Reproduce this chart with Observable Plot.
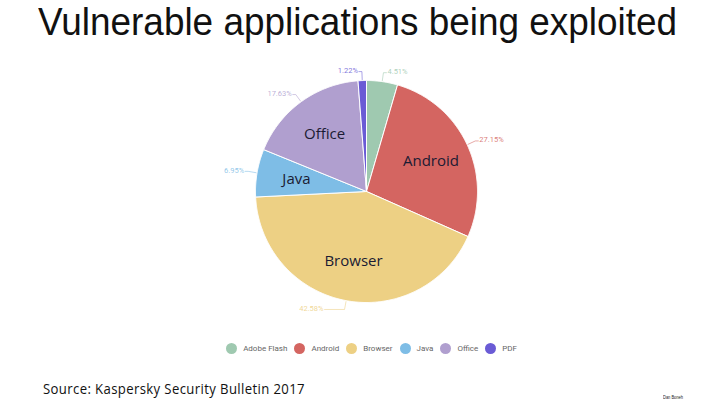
<!DOCTYPE html>
<html>
<head>
<meta charset="utf-8">
<script src="https://cdn.jsdelivr.net/npm/d3@7"></script>
<script src="https://cdn.jsdelivr.net/npm/@observablehq/plot@0.6"></script>
<style>
  html, body { margin: 0; padding: 0; background: #fff; }
  #wrap { position: relative; width: 720px; height: 405px; overflow: hidden; background: #fff; }
  #wrap svg { position: absolute; left: 0; top: 0; }
  .fit { position: absolute; white-space: nowrap; transform-origin: 0 0; }
  #title { top: 1px; font-family: "Liberation Sans", Arial, sans-serif; font-size: 38px; line-height: normal; color: #111; }
  #caption { top: 379px; font-family: "Open Sans", sans-serif; font-size: 14px; color: #111; letter-spacing: 0.4px; }
  #credit { left: 663px; top: 394px; font-family: "Liberation Sans", sans-serif; font-size: 6px; color: #222; }
  #legend { position: absolute; top: 343px; left: 0; width: 720px; display: flex; justify-content: center; padding-left: 23px; box-sizing: border-box;
            font-family: "Roboto", sans-serif; font-size: 8px; color: #666; }
  .li { display: flex; align-items: center; margin: 0 3.5px; }
  .sw { width: 11px; height: 11px; border-radius: 50%; margin-right: 6px; }
</style>
</head>
<body>
<div id="wrap">
  <div id="title" class="fit">Vulnerable applications being exploited</div>
  <div id="legend"></div>
  <div id="caption" class="fit">Source: Kaspersky Security Bulletin 2017</div>
  <div id="credit" class="fit">Dan Boneh</div>
</div>
<script>
// ---- data ----
const names = ["Adobe Flash", "Android", "Browser", "Java", "Office", "PDF"];
const values = [4.51, 27.15, 42.58, 6.95, 17.63, 1.22];
const pctLabels = ["4.51%", "27.15%", "42.58%", "6.95%", "17.63%", "1.22%"];
const sliceLabels = ["", "Android", "Browser", "Java", "Office", ""];
const colors = ["#9fc9b0", "#d46561", "#edd084", "#7ebde6", "#b09fcf", "#6a5bd5"];

// ---- layout ----
const W = 720, H = 405;
const cx = 366, cy = 191, R = 111;
const pt = (a, r) => ({x: cx + r * Math.sin(a), y: cy - r * Math.cos(a)});

const arcs = d3.pie().sort(null).value(d => d)(values);

const poly = [];
arcs.forEach((a, i) => {
  const n = Math.max(2, Math.ceil((a.endAngle - a.startAngle) / (Math.PI / 360)));
  poly.push({name: names[i], ...pt(0, 0)});
  for (let k = 0; k <= n; k++) {
    const t = a.startAngle + (a.endAngle - a.startAngle) * k / n;
    poly.push({name: names[i], ...pt(t, R)});
  }
  poly.push({name: names[i], ...pt(0, 0)});
});

const leaders = [], pct = [], inner = [];
arcs.forEach((a, i) => {
  const m = (a.startAngle + a.endAngle) / 2;
  const p0 = pt(m, R + 1), p1 = pt(m, R + 9);
  const right = Math.sin(m) >= 0;
  // longer horizontal run for labels near the bottom of the pie
  const run = Math.cos(m) < -0.5 ? 20 : 3;
  const p2 = {x: p1.x + (right ? run : -run), y: p1.y};
  leaders.push({name: names[i], ...p0}, {name: names[i], ...p1}, {name: names[i], ...p2});
  pct.push({name: names[i], text: pctLabels[i], right, x: p2.x + (right ? 1 : -1), y: p2.y - 1});
  if (sliceLabels[i]) inner.push({name: names[i], text: sliceLabels[i], ...pt(m, R * 0.64)});
});

const chart = Plot.plot({
  width: W, height: H, margin: 0,
  x: {domain: [0, W], range: [0, W], axis: null},
  y: {domain: [0, H], range: [0, H], axis: null},
  color: {domain: names, range: colors},
  style: {background: "transparent"},
  marks: [
    Plot.line(poly, {x: "x", y: "y", z: "name", fill: "name", stroke: "white", strokeWidth: 1, strokeLinejoin: "round"}),
    Plot.line(leaders, {x: "x", y: "y", z: "name", stroke: "name", strokeWidth: 0.7, strokeOpacity: 0.8}),
    Plot.text(pct.filter(d => d.right), {x: "x", y: "y", text: "text", fill: "name", textAnchor: "start",
      fontSize: 7.5, fontFamily: "Roboto, sans-serif", fillOpacity: 0.85}),
    Plot.text(pct.filter(d => !d.right), {x: "x", y: "y", text: "text", fill: "name", textAnchor: "end",
      fontSize: 7.5, fontFamily: "Roboto, sans-serif", fillOpacity: 0.85}),
    Plot.text(inner, {x: "x", y: "y", text: "text", fill: "#1b1b33", fontSize: 15,
      fontFamily: "Open Sans, sans-serif"})
  ]
});
document.getElementById("wrap").insertBefore(chart, document.getElementById("title"));

// legend
const lg = document.getElementById("legend");
names.forEach((n, i) => {
  const li = document.createElement("div"); li.className = "li";
  const sw = document.createElement("div"); sw.className = "sw"; sw.style.background = colors[i];
  const tx = document.createElement("span"); tx.textContent = n;
  li.appendChild(sw); li.appendChild(tx); lg.appendChild(li);
});

// fit texts to reference widths
function fit(id, left, width) {
  const el = document.getElementById(id);
  el.style.left = left + "px";
  const w = el.getBoundingClientRect().width;
  el.style.transform = `scaleX(${width / w})`;
}
fit("title", 38, 639);
fit("caption", 43, 262);
fit("credit", 663, 20);
</script>
</body>
</html>
